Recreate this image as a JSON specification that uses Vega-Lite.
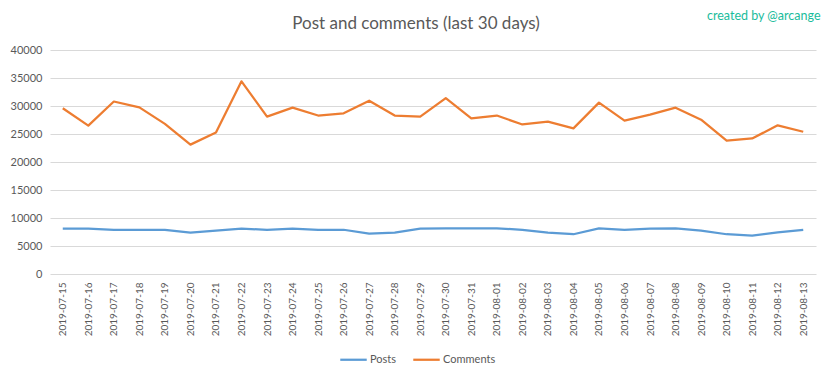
{
  "$schema": "https://vega.github.io/schema/vega-lite/v6.json",
  "width": 766,
  "height": 224,
  "autosize": {"type": "none"},
  "padding": {"left": 50, "top": 50, "right": 16, "bottom": 104},
  "background": "white",
  "title": {
    "text": "Post and comments (last 30 days)",
    "anchor": "middle",
    "frame": "group",
    "fontSize": 17,
    "font": "Lato",
    "fontWeight": "normal",
    "color": "#595959",
    "offset": 0,
    "dy": 24,
    "dx": -17
  },
  "data": {
    "values": [
      {"date": "2019-07-15", "series": "Posts", "value": 8100},
      {"date": "2019-07-16", "series": "Posts", "value": 8100},
      {"date": "2019-07-17", "series": "Posts", "value": 7900},
      {"date": "2019-07-18", "series": "Posts", "value": 7900},
      {"date": "2019-07-19", "series": "Posts", "value": 7900},
      {"date": "2019-07-20", "series": "Posts", "value": 7400},
      {"date": "2019-07-21", "series": "Posts", "value": 7750},
      {"date": "2019-07-22", "series": "Posts", "value": 8100},
      {"date": "2019-07-23", "series": "Posts", "value": 7900},
      {"date": "2019-07-24", "series": "Posts", "value": 8100},
      {"date": "2019-07-25", "series": "Posts", "value": 7900},
      {"date": "2019-07-26", "series": "Posts", "value": 7900},
      {"date": "2019-07-27", "series": "Posts", "value": 7200},
      {"date": "2019-07-28", "series": "Posts", "value": 7400},
      {"date": "2019-07-29", "series": "Posts", "value": 8100},
      {"date": "2019-07-30", "series": "Posts", "value": 8150},
      {"date": "2019-07-31", "series": "Posts", "value": 8150},
      {"date": "2019-08-01", "series": "Posts", "value": 8150},
      {"date": "2019-08-02", "series": "Posts", "value": 7900},
      {"date": "2019-08-03", "series": "Posts", "value": 7400},
      {"date": "2019-08-04", "series": "Posts", "value": 7100},
      {"date": "2019-08-05", "series": "Posts", "value": 8150},
      {"date": "2019-08-06", "series": "Posts", "value": 7900},
      {"date": "2019-08-07", "series": "Posts", "value": 8100},
      {"date": "2019-08-08", "series": "Posts", "value": 8150},
      {"date": "2019-08-09", "series": "Posts", "value": 7750},
      {"date": "2019-08-10", "series": "Posts", "value": 7100},
      {"date": "2019-08-11", "series": "Posts", "value": 6850},
      {"date": "2019-08-12", "series": "Posts", "value": 7450},
      {"date": "2019-08-13", "series": "Posts", "value": 7900},
      {"date": "2019-07-15", "series": "Comments", "value": 29600},
      {"date": "2019-07-16", "series": "Comments", "value": 26500},
      {"date": "2019-07-17", "series": "Comments", "value": 30800},
      {"date": "2019-07-18", "series": "Comments", "value": 29750},
      {"date": "2019-07-19", "series": "Comments", "value": 26800},
      {"date": "2019-07-20", "series": "Comments", "value": 23100},
      {"date": "2019-07-21", "series": "Comments", "value": 25250},
      {"date": "2019-07-22", "series": "Comments", "value": 34400},
      {"date": "2019-07-23", "series": "Comments", "value": 28100},
      {"date": "2019-07-24", "series": "Comments", "value": 29700},
      {"date": "2019-07-25", "series": "Comments", "value": 28300},
      {"date": "2019-07-26", "series": "Comments", "value": 28700},
      {"date": "2019-07-27", "series": "Comments", "value": 30950},
      {"date": "2019-07-28", "series": "Comments", "value": 28300},
      {"date": "2019-07-29", "series": "Comments", "value": 28100},
      {"date": "2019-07-30", "series": "Comments", "value": 31400},
      {"date": "2019-07-31", "series": "Comments", "value": 27800},
      {"date": "2019-08-01", "series": "Comments", "value": 28300},
      {"date": "2019-08-02", "series": "Comments", "value": 26700},
      {"date": "2019-08-03", "series": "Comments", "value": 27200},
      {"date": "2019-08-04", "series": "Comments", "value": 26000},
      {"date": "2019-08-05", "series": "Comments", "value": 30600},
      {"date": "2019-08-06", "series": "Comments", "value": 27400},
      {"date": "2019-08-07", "series": "Comments", "value": 28450},
      {"date": "2019-08-08", "series": "Comments", "value": 29700},
      {"date": "2019-08-09", "series": "Comments", "value": 27550},
      {"date": "2019-08-10", "series": "Comments", "value": 23800},
      {"date": "2019-08-11", "series": "Comments", "value": 24200},
      {"date": "2019-08-12", "series": "Comments", "value": 26550},
      {"date": "2019-08-13", "series": "Comments", "value": 25400}
    ]
  },
  "layer": [
    {
      "mark": {"type": "line", "strokeWidth": 2.25, "strokeJoin": "round"},
      "encoding": {
        "x": {
          "field": "date",
          "type": "ordinal",
          "scale": {"type": "point", "padding": 0.5},
          "axis": {
            "title": null,
            "labelAngle": -90,
            "labelFont": "Lato",
            "labelFontSize": 10,
            "labelColor": "#595959",
            "labelPadding": 8,
            "ticks": false,
            "domain": false,
            "grid": false
          }
        },
        "y": {
          "field": "value",
          "type": "quantitative",
          "scale": {"domain": [0, 40000], "nice": false},
          "axis": {
            "title": null,
            "values": [0, 5000, 10000, 15000, 20000, 25000, 30000, 35000, 40000],
            "format": "d",
            "labelFont": "Lato",
            "labelFontSize": 11,
            "labelColor": "#595959",
            "labelPadding": 8,
            "ticks": false,
            "domain": false,
            "grid": true,
            "gridColor": "#d9d9d9",
            "gridWidth": 1
          }
        },
        "color": {
          "field": "series",
          "type": "nominal",
          "scale": {"domain": ["Posts", "Comments"], "range": ["#5B9BD5", "#ED7D31"]},
          "legend": {
            "title": null,
            "orient": "none",
            "direction": "horizontal",
            "legendX": 289,
            "legendY": 295,
            "symbolType": "stroke",
            "symbolSize": 700,
            "symbolStrokeWidth": 2.25,
            "labelFont": "Lato",
            "labelFontSize": 11,
            "labelColor": "#595959",
            "columnPadding": 11,
            "labelOffset": 2
          }
        }
      }
    },
    {
      "mark": {"type": "rule", "opacity": 0},
      "encoding": {
        "x": {
          "field": "date",
          "type": "ordinal",
          "axis": {
            "orient": "top",
            "labels": false,
            "ticks": false,
            "domain": false,
            "grid": false,
            "title": "created by @arcange",
            "titleFont": "Lato",
            "titleFontSize": 12.5,
            "titleFontWeight": "normal",
            "titleColor": "#1ABC9C",
            "titleAnchor": "end",
            "titleAlign": "right",
            "titleBaseline": "middle",
            "titleX": 770,
            "titleY": -35
          }
        }
      }
    }
  ],
  "resolve": {"axis": {"x": "independent"}},
  "config": {
    "view": {"stroke": null}
  }
}
